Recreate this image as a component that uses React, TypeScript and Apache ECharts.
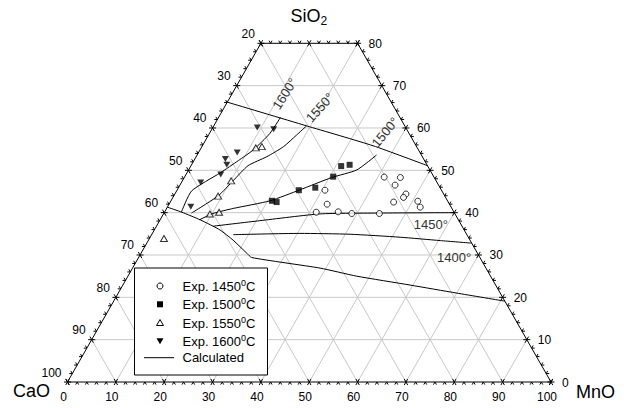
import React, { useEffect, useRef } from 'react';
import * as echarts from 'echarts';

// All compositions are [CaO, MnO, SiO2] in wt%
const exp1450: number[][] = [
  [24.1, 30.6, 45.3], [25.3, 32.7, 42.0], [28.6, 31.4, 40.1], [23.9, 35.9, 40.2],
  [21.3, 38.9, 39.8], [15.6, 44.6, 39.8], [10.3, 41.3, 48.4], [7.0, 44.7, 48.3],
  [9.0, 44.5, 46.5], [7.9, 47.8, 44.4], [8.8, 47.7, 43.6], [11.3, 46.2, 42.5],
  [6.3, 51.1, 42.7], [6.3, 52.3, 41.3],
];
const exp1500: number[][] = [
  [17.9, 31.1, 51.0], [16.0, 32.7, 51.3], [20.8, 30.7, 48.5], [25.8, 28.3, 45.9],
  [29.4, 25.2, 45.3], [36.3, 20.9, 42.8], [35.5, 22.0, 42.5],
];
const exp1550: number[][] = [
  [33.4, 11.3, 55.3], [32.1, 12.4, 55.6], [42.4, 10.1, 47.5], [46.9, 9.2, 43.9],
  [50.7, 9.6, 39.7], [48.6, 11.3, 40.1], [63.1, 3.0, 33.9],
];
const exp1600: number[][] = [
  [30.7, 9.2, 60.1], [27.5, 12.8, 59.7], [37.8, 8.0, 54.2], [41.0, 6.3, 52.7],
  [41.5, 7.3, 51.3], [43.8, 7.2, 49.0], [48.9, 4.0, 47.1], [53.8, 4.8, 41.4],
];

// Calculated curves
const calcUpper: number[][] = [[33.9, 0, 66.1], [20.3, 19.2, 60.5], [8.9, 35.3, 55.8], [0, 48.9, 51.1]];
const calc1600: number[][] = [
  [56.4, 3.5, 40.1], [51.8, 3.1, 45.1], [43.8, 6.9, 49.4], [38.5, 9.2, 52.3],
  [34.2, 11.0, 54.8], [28.8, 12.5, 58.7], [24.7, 12.8, 62.5],
];
const calc1550: number[][] = [
  [54.4, 5.7, 39.9], [46.8, 9.2, 44.0], [41.9, 10.5, 47.6], [37.0, 11.8, 51.1],
  [32.2, 14.6, 53.2], [27.6, 16.9, 55.6], [23.4, 18.2, 58.3], [20.3, 19.2, 60.5],
];
const calc1500: number[][] = [
  [53.7, 8.1, 38.3], [49.9, 10.2, 39.8], [45.2, 13.8, 41.0], [36.7, 20.5, 42.8],
  [29.2, 25.4, 45.4], [21.2, 30.5, 48.3], [15.2, 34.8, 50.1], [9.3, 37.1, 53.6],
];
const calc1450: number[][] = [
  [51.4, 11.7, 36.8], [41.1, 20.7, 38.1], [27.9, 32.4, 39.7], [15.4, 44.7, 39.9], [0, 60.0, 40.0],
];
const calc1400: number[][] = [
  [48.3, 16.9, 34.8], [34.4, 30.5, 35.1], [24.1, 41.0, 34.9], [14.1, 51.7, 34.2],
  [6.3, 60.4, 33.4], [0, 67.2, 32.8],
];
const calcLower: number[][] = [
  [58.7, 0, 41.3], [56.3, 3.6, 40.1], [53.5, 8.3, 38.3], [50.5, 13.6, 35.9],
  [48.9, 17.5, 33.5], [47.7, 21.9, 30.4], [47.2, 23.4, 29.4], [34.4, 38.8, 26.9],
  [27.7, 47.3, 25.0], [17.7, 59.4, 22.9], [9.0, 70.0, 21.0], [0, 80.9, 19.1],
];
const calcCurves = [calcUpper, calc1600, calc1550, calc1500, calc1450, calc1400, calcLower];

// Isotherm labels
const isoTexts = ['1600°', '1550°', '1500°', '1450°', '1400°'];
const isoAt: number[][] = [[21.0, 10.9, 68.1], [15.4, 19.8, 64.8], [4.7, 36.2, 59.0], [6.3, 56.6, 37.1], [5.3, 65.2, 29.5]];
const isoAngle = [58, 48, 50, 0, 0];

// Tick labels
const mnoTicks = [0, 10, 20, 30, 40, 50, 60, 70, 80, 90, 100];
const caoTicks = [100, 90, 80, 70, 60, 50, 40, 30, 20];
const sio2Ticks = [0, 10, 20, 30, 40, 50, 60, 70, 80];

const legendNames = ['Exp. 1450', 'Exp. 1500', 'Exp. 1550', 'Exp. 1600'];

const FONT = "'Liberation Sans', Arial, sans-serif";

// composition -> cartesian (u = MnO + SiO2/2, v = SiO2)
const toUV = (p: number[]) => [p[1] + p[2] / 2, p[2]];

export default function App() {
  const ref = useRef<HTMLDivElement>(null);
  useEffect(() => {
    if (!ref.current) return;
    const chart = echarts.init(ref.current, undefined, { renderer: 'svg' });

    const renderFrame = (_params: any, api: any) => {
      const P = (u: number, s: number) => api.coord([u, s]) as number[];
      const children: any[] = [];
      const gray = { stroke: '#c8c8c8', lineWidth: 1, fill: 'none' };
      const black = { stroke: '#000', lineWidth: 1, fill: 'none' };
      const seg = (a: number[], b: number[], style: any) =>
        children.push({ type: 'line', shape: { x1: a[0], y1: a[1], x2: b[0], y2: b[1] }, style });
      // grid lines
      for (let s = 10; s < 80; s += 10) seg(P(s / 2, s), P(100 - s / 2, s), gray);
      for (let c = 10; c < 100; c += 10) {
        const sTop = Math.min(100 - c, 80);
        const mTop = 100 - c - sTop;
        seg(P(mTop + sTop / 2, sTop), P(100 - c, 0), gray);
      }
      for (let m = 10; m < 100; m += 10) {
        const sTop = Math.min(100 - m, 80);
        seg(P(m + sTop / 2, sTop), P(m, 0), gray);
      }
      // border
      const p0 = P(0, 0), p1 = P(100, 0), pTL = P(40, 80), pTR = P(60, 80);
      children.push({ type: 'polygon', shape: { points: [p0, p1, pTR, pTL] }, style: black });
      const norm = (v: number[]) => { const l = Math.hypot(v[0], v[1]); return [v[0] / l, v[1] / l]; };
      const dL = norm([pTL[0] - p0[0], pTL[1] - p0[1]]);
      const dR = norm([pTR[0] - p1[0], pTR[1] - p1[1]]);
      const neg = (d: number[]) => [-d[0], -d[1]];
      const tick = (p: number[], dirs: number[][], major: boolean) => {
        const T = major ? 3.5 : 3;
        for (const d of dirs) {
          const a = major ? [p[0] - d[0] * T, p[1] - d[1] * T] : p;
          const b = [p[0] + d[0] * T, p[1] + d[1] * T];
          seg(a, b, black);
        }
      };
      for (let m = 0; m <= 100; m += 2) tick(P(m, 0), [neg(dL), neg(dR)], m % 10 === 0);
      for (let m = 0; m <= 20; m += 2) tick(P(40 + m, 80), [dL, dR], m % 10 === 0);
      for (let c = 20; c <= 100; c += 2) { const s = 100 - c; tick(P(s / 2, s), [[-1, 0], dR], c % 10 === 0); }
      for (let s = 0; s <= 80; s += 2) tick(P(100 - s / 2, s), [[1, 0], dL], s % 10 === 0);
      // tick labels
      const label = (p: number[], text: string, align: string) =>
        children.push({
          type: 'text', x: p[0], y: p[1],
          style: { text, fill: '#000', fontSize: 12, fontFamily: FONT, align, verticalAlign: 'middle' },
        });
      mnoTicks.forEach((m) => { const p = P(m, 0); label([p[0] - 4, p[1] + 15], String(m), 'center'); });
      caoTicks.forEach((c) => { const s = 100 - c; const p = P(s / 2, s); label([p[0] - 6, p[1] - 9.5], String(c), 'right'); });
      sio2Ticks.forEach((s) => { const p = P(100 - s / 2, s); label([p[0] + 11, p[1] + 0.5], String(s), 'left'); });
      // isotherm labels
      isoTexts.forEach((t, i) => {
        const uv = toUV(isoAt[i]);
        const p = P(uv[0], uv[1]);
        children.push({
          type: 'text', x: p[0], y: p[1], rotation: (isoAngle[i] * Math.PI) / 180,
          style: { text: t, fill: '#333', fontSize: 13, fontFamily: FONT, align: 'center', verticalAlign: 'middle' },
        });
      });
      return { type: 'group', children };
    };

    const scatterBase = { type: 'scatter', z: 4, silent: true };
    const series: any[] = [
      { type: 'custom', renderItem: renderFrame, data: [[50, 40]], clip: false, silent: true, z: 1 },
      ...calcCurves.map((c) => ({
        type: 'line', name: 'Calculated', data: c.map(toUV), symbol: 'none', showSymbol: false,
        lineStyle: { color: '#000', width: 1 }, silent: true, z: 2, smooth: 0.2,
      })),
      { ...scatterBase, name: 'Exp. 1450°C', data: exp1450.map(toUV), symbol: 'circle', symbolSize: 6,
        itemStyle: { color: '#fff', borderColor: '#000', borderWidth: 1 } },
      { ...scatterBase, name: 'Exp. 1500°C', data: exp1500.map(toUV), symbol: 'rect', symbolSize: 6,
        itemStyle: { color: '#000' } },
      { ...scatterBase, name: 'Exp. 1550°C', data: exp1550.map(toUV), symbol: 'triangle', symbolSize: [7, 6],
        itemStyle: { color: '#fff', borderColor: '#000', borderWidth: 1 } },
      { ...scatterBase, name: 'Exp. 1600°C', data: exp1600.map(toUV), symbol: 'triangle', symbolSize: [7, 6],
        symbolRotate: 180, itemStyle: { color: '#000' } },
    ];

    // legend (graphic)
    const LX = 160, rows = [286, 304.3, 322.5, 341.3, 357.7];
    const legendEls: any[] = [
      { type: 'rect', shape: { x: 134.5, y: 268, width: 133, height: 107 }, style: { fill: '#fff', stroke: '#000', lineWidth: 1 }, z: 10 },
      { type: 'circle', shape: { cx: LX, cy: rows[0], r: 3 }, style: { fill: '#fff', stroke: '#000', lineWidth: 1 }, z: 11 },
      { type: 'rect', shape: { x: LX - 3, y: rows[1] - 3, width: 6, height: 6 }, style: { fill: '#000' }, z: 11 },
      { type: 'polygon', shape: { points: [[LX, rows[2] - 3], [LX + 3.5, rows[2] + 3], [LX - 3.5, rows[2] + 3]] }, style: { fill: '#fff', stroke: '#000', lineWidth: 1 }, z: 11 },
      { type: 'polygon', shape: { points: [[LX - 3.5, rows[3] - 3], [LX + 3.5, rows[3] - 3], [LX, rows[3] + 3]] }, style: { fill: '#000' }, z: 11 },
      { type: 'line', shape: { x1: 144, y1: rows[4], x2: 174, y2: rows[4] }, style: { stroke: '#000', lineWidth: 1 }, z: 11 },
    ];
    legendNames.forEach((n, i) => {
      legendEls.push({
        type: 'text', x: 182.5, y: rows[i] + 0.5, z: 11,
        style: {
          text: `{a|${n}}{s|0}{a|C}`, verticalAlign: 'middle', align: 'left',
          rich: {
            a: { fontSize: 13, fontFamily: FONT, fill: '#000', lineHeight: 16 },
            s: { fontSize: 9, fontFamily: FONT, fill: '#000', lineHeight: 10, verticalAlign: 'top' },
          },
        },
      });
    });
    legendEls.push({
      type: 'text', x: 182.5, y: rows[4], z: 11,
      style: { text: 'Calculated', fontSize: 13, fontFamily: FONT, fill: '#000', verticalAlign: 'middle', align: 'left' },
    });
    // component titles
    legendEls.push(
      { type: 'text', x: 13, y: 391, style: { text: 'CaO', fontSize: 18, fontFamily: FONT, fill: '#000', verticalAlign: 'middle', align: 'left' } },
      { type: 'text', x: 576, y: 391.5, style: { text: 'MnO', fontSize: 18, fontFamily: FONT, fill: '#000', verticalAlign: 'middle', align: 'left' } },
      {
        type: 'text', x: 290.5, y: 16,
        style: {
          text: '{a|SiO}{b|2}', verticalAlign: 'middle', align: 'left',
          rich: {
            a: { fontSize: 18, fontFamily: FONT, fill: '#000', lineHeight: 22 },
            b: { fontSize: 12, fontFamily: FONT, fill: '#000', lineHeight: 12, verticalAlign: 'bottom' },
          },
        },
      },
    );

    chart.setOption({
      animation: false,
      backgroundColor: '#fff',
      grid: { left: 67.5, right: 73, top: 43.3, bottom: 26, containLabel: false },
      xAxis: { type: 'value', min: 0, max: 100, show: false },
      yAxis: { type: 'value', min: 0, max: 80, show: false },
      graphic: legendEls,
      series,
    });
    return () => chart.dispose();
  }, []);
  return <div ref={ref} style={{ position: 'fixed', left: 0, top: 0, width: 624, height: 408 }} />;
}
